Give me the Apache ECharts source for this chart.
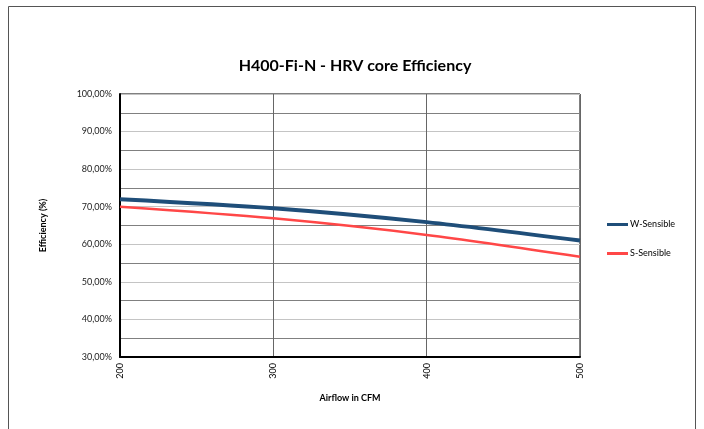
<!DOCTYPE html>
<html>
<head>
<meta charset="utf-8">
<script src="https://cdn.jsdelivr.net/npm/echarts@6/dist/echarts.min.js"></script>
<style>
  html, body { margin: 0; padding: 0; background: #fff; }
  #chart { width: 704px; height: 429px; }
</style>
</head>
<body>
<div id="chart"></div>
<script>
// airflow points (CFM)
var airflow = [200, 300, 400, 500];
// efficiency values in %
var wSensible = [72.0, 69.6, 65.9, 61.0];
var sSensible = [70.0, 66.9, 62.5, 56.7];
var seriesNames = ['W-Sensible', 'S-Sensible'];

function pairs(xs, ys) {
  return xs.map(function(x, i) { return [x, ys[i]]; });
}

var font = 'Lato';
var chart = echarts.init(document.getElementById('chart'));
chart.setOption({
  animation: false,
  title: {
    text: 'H400-Fi-N - HRV core Efficiency',
    left: 350,
    top: 53,
    textAlign: 'center',
    textStyle: { fontFamily: font, fontWeight: 'bold', fontSize: 16, color: '#000' }
  },
  graphic: [{
    type: 'rect',
    shape: { x: 8.5, y: 6.5, width: 687, height: 430 },
    style: { fill: 'none', stroke: '#555', lineWidth: 1 }
  }],
  legend: {
    orient: 'vertical',
    left: 602,
    top: 215,
    itemGap: 20,
    icon: 'rect',
    itemWidth: 21,
    itemHeight: 3,
    textStyle: { fontFamily: font, fontSize: 9, color: '#000', padding: [0, 0, 0, -3] },
    data: seriesNames
  },
  grid: {
    left: 120, right: 124, top: 94, bottom: 72,
    show: true, borderColor: '#000', borderWidth: 1
  },
  xAxis: {
    type: 'value',
    min: 200, max: 500, interval: 100,
    name: 'Airflow in CFM',
    nameLocation: 'middle',
    nameGap: 37,
    nameTextStyle: { fontFamily: font, fontWeight: 'bold', fontSize: 9, color: '#000' },
    axisLine: { lineStyle: { color: '#000', width: 2 } },
    axisTick: { show: false },
    axisLabel: { rotate: 90, fontFamily: font, fontSize: 9, color: '#000', margin: 6 },
    splitLine: { show: true, lineStyle: { color: '#666', width: 1 } }
  },
  yAxis: {
    type: 'value',
    min: 30, max: 100, interval: 10,
    name: 'Efficiency (%)',
    nameLocation: 'middle',
    nameGap: 72,
    nameTextStyle: { fontFamily: font, fontWeight: 'bold', fontSize: 9, color: '#000' },
    axisLine: { show: true, lineStyle: { color: '#000', width: 2 } },
    axisTick: { show: false },
    axisLabel: {
      fontFamily: font, fontSize: 9, color: '#222', margin: 8,
      formatter: function(v) { return v.toFixed(2).replace('.', ',') + '%'; }
    },
    splitLine: { show: true, lineStyle: { color: '#c4c4c4', width: 1 } },
    minorTick: { show: false, splitNumber: 2 },
    minorSplitLine: { show: true, lineStyle: { color: '#808080', width: 1 } }
  },
  series: [{
    name: seriesNames[0],
    type: 'line',
    smooth: 0.3,
    symbol: 'none',
    data: pairs(airflow, wSensible),
    lineStyle: { color: '#1f4e79', width: 4 },
    itemStyle: { color: '#1f4e79' }
  }, {
    name: seriesNames[1],
    type: 'line',
    smooth: 0.3,
    symbol: 'none',
    data: pairs(airflow, sSensible),
    lineStyle: { color: '#ff4747', width: 2.5 },
    itemStyle: { color: '#ff4747' }
  }]
});
</script>
</body>
</html>
